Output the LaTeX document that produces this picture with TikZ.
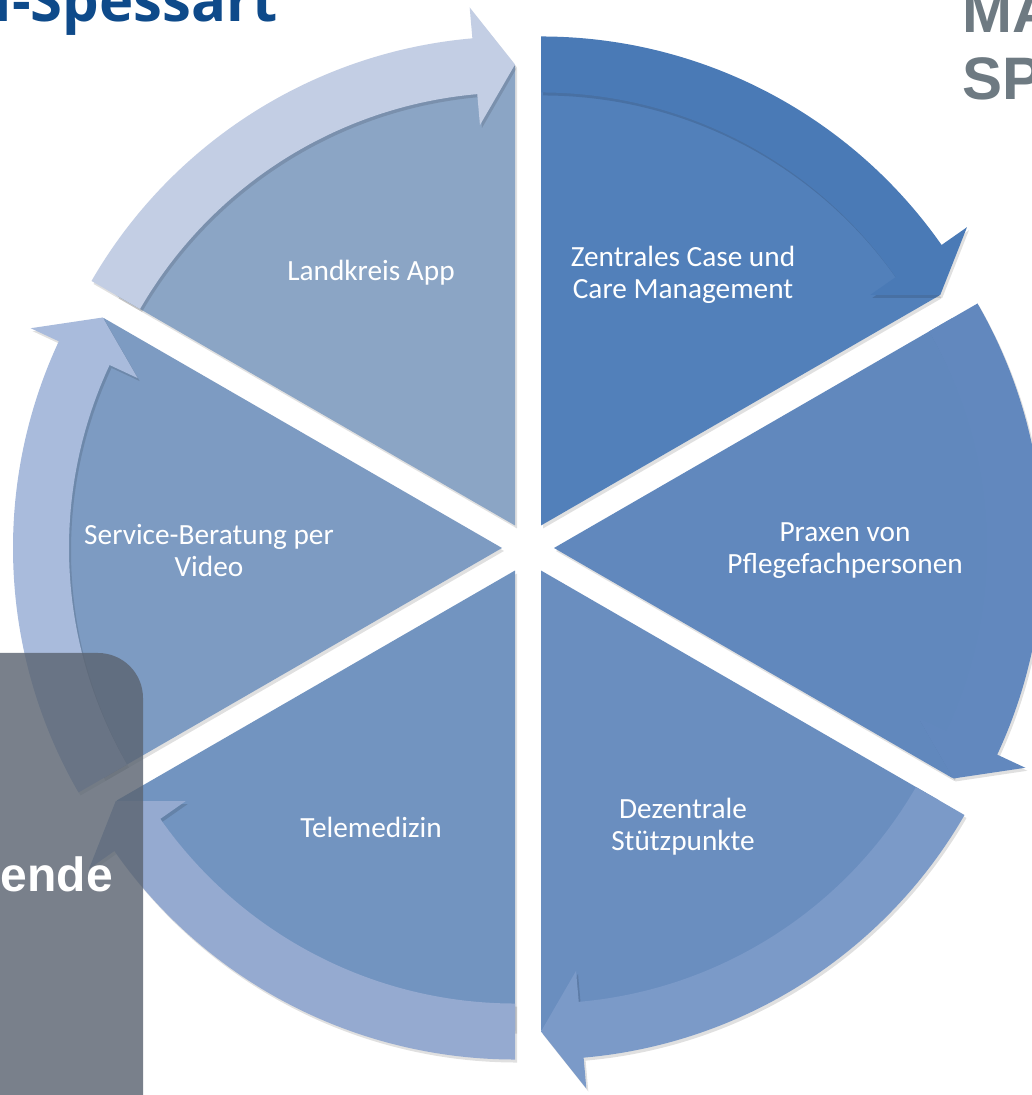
\documentclass[tikz,border=0pt]{standalone}
\usepackage{fontspec}
\setmainfont{Carlito}
\newfontfamily\titlefont{Open Sans}
\newfontfamily\brandfont{Liberation Sans}
\newfontfamily\boxfont{Liberation Sans}
\usetikzlibrary{calc}
\definecolor{secA}{RGB}{82,128,186}
\definecolor{secB}{RGB}{97,136,189}
\definecolor{secC}{RGB}{106,142,191}
\definecolor{secD}{RGB}{114,148,192}
\definecolor{secE}{RGB}{125,155,194}
\definecolor{secF}{RGB}{139,165,197}
\definecolor{arrA}{RGB}{74,122,182}
\definecolor{arrB}{RGB}{98,136,190}
\definecolor{arrC}{RGB}{123,154,200}
\definecolor{arrD}{RGB}{149,170,208}
\definecolor{arrE}{RGB}{169,187,220}
\definecolor{arrF}{RGB}{195,206,228}
\definecolor{brandblue}{RGB}{14,74,138}
\definecolor{brandgray}{RGB}{110,122,130}
\definecolor{boxgray}{RGB}{92,101,114}
\newcommand{\mysector}[2]{%
  \begin{scope}[shift={($(C)+(#1:26)$)}]
    \fill[black,opacity=0.12] (2,-3) -- ++(#1+30:460) arc[start angle=#1+30,end angle=#1-30,radius=460] -- cycle;
    \fill[#2] (0,0) -- (#1+30:460) arc[start angle=#1+30,end angle=#1-30,radius=460] -- cycle;
  \end{scope}}
\newcommand{\myarrow}[2]{%
  \begin{scope}[shift={($(C)+(#1:26)$)}]
    \begin{scope}[shift={(2,-3)}]
    \fill[black,opacity=0.12] (#1+30:489) arc[start angle=#1+30,end angle=#1-25,radius=489] -- (#1-25:520) -- (#1-30:461) -- (#1-25:402) -- (#1-25:433) arc[start angle=#1-25,end angle=#1+30,radius=433] -- cycle;
    \end{scope}
    \fill[#2] (#1+30:489) arc[start angle=#1+30,end angle=#1-25,radius=489] -- (#1-25:520) -- (#1-30:461) -- (#1-25:402) -- (#1-25:433) arc[start angle=#1-25,end angle=#1+30,radius=433] -- cycle;
  \end{scope}}
\tikzset{lbl/.style={text=white, align=center, inner sep=0pt, font=\fontsize{29.3}{32}\selectfont}}
\begin{document}
\begin{tikzpicture}[x=1pt,y=1pt]
\useasboundingbox (0,0) rectangle (1031,1095);
\fill[white] (0,0) rectangle (1031,1095);
\coordinate (C) at (528,547);
% sectors
\mysector{60}{secA}
\mysector{0}{secB}
\mysector{-60}{secC}
\mysector{-120}{secD}
\mysector{180}{secE}
\mysector{120}{secF}
% arrows
\myarrow{60}{arrA}
\myarrow{0}{arrB}
\myarrow{-60}{arrC}
\myarrow{-120}{arrD}
\myarrow{180}{arrE}
\myarrow{120}{arrF}
% labels
\node[lbl] (l1) at (683,820) {Zentrales Case und\\Care Management};
\node[lbl] (l2) at (845,544) {Praxen von\\Pflegefachpersonen};
\node[lbl] (l3) at (683,268) {Dezentrale\\Stützpunkte};
\node[lbl] (l4) at (371,268) {Telemedizin};
\node[lbl] (l5) at (209,544) {Service-Beratung per\\Video};
\node[lbl] (l6) at (371,822) {Landkreis App};
% header texts
\node[anchor=base east, inner sep=0pt, text=brandblue, font=\titlefont\bfseries\fontsize{58}{58}\selectfont] (t1) at (278,1073) {n-Spessart};
\node[anchor=base west, inner sep=0pt, text=brandgray, font=\brandfont\bfseries\fontsize{60}{60}\selectfont] (t2) at (962,1062) {MA};
\node[anchor=base west, inner sep=0pt, text=brandgray, font=\brandfont\bfseries\fontsize{60}{60}\selectfont] (t3) at (962,995) {SP};
% grey box
\fill[boxgray, opacity=0.82, rounded corners=45pt] (-60,-60) -- (-60,442) -- (143,442) -- (143,-60) -- cycle;
\node[anchor=base east, inner sep=0pt, text=white, font=\boxfont\bfseries\fontsize{48}{48}\selectfont] (t4) at (113,203) {ende};
\end{tikzpicture}
\end{document}
